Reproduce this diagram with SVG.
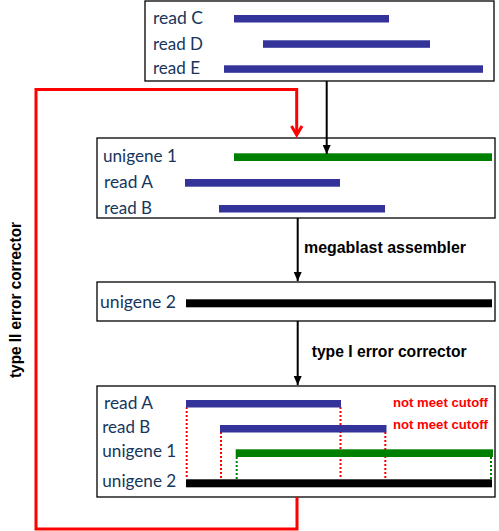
<svg xmlns="http://www.w3.org/2000/svg" width="499" height="531" viewBox="0 0 499 531">
<style>
.box{fill:#fff;stroke:#000;stroke-width:1.3}
.lbl{font-family:Lato,"Liberation Sans",sans-serif;font-size:17.5px;fill:#17365D}
.op{font-family:"Liberation Sans",Arial,sans-serif;font-size:16px;font-weight:bold;fill:#000}
.warn{font-family:"Liberation Sans",Arial,sans-serif;font-size:12.5px;font-weight:bold;fill:#FF0000}
.blue{fill:#333399}
.green{fill:#008000}
.black{fill:#000}
.rdot{stroke:#FF0000;stroke-width:2;stroke-dasharray:2 2;fill:none}
.gdot{stroke:#008000;stroke-width:2;stroke-dasharray:2 2;fill:none}
.arr{stroke:#000;stroke-width:2;fill:none}
.red{stroke:#FF0000;stroke-width:3;fill:none}
</style>
<defs>
<marker id="ah" markerWidth="10" markerHeight="8" refX="9" refY="4" orient="auto" markerUnits="userSpaceOnUse" viewBox="0 0 10 8">
<path d="M0,0 L9,4 L0,8 Z" fill="#000"/>
</marker>
</defs>

<g id="box-reads-CDE">
<rect class="box" x="145" y="1" width="349" height="80"/>
<text class="lbl" x="153" y="24" textLength="50" lengthAdjust="spacingAndGlyphs">read C</text>
<text class="lbl" x="153" y="50" textLength="50" lengthAdjust="spacingAndGlyphs">read D</text>
<text class="lbl" x="153" y="74" textLength="47" lengthAdjust="spacingAndGlyphs">read E</text>
<rect class="blue" x="234" y="15" width="155" height="7.5"/>
<rect class="blue" x="263" y="40.3" width="167" height="7.5"/>
<rect class="blue" x="224" y="65.3" width="259" height="7.5"/>
</g>

<g id="box-unigene1-reads">
<rect class="box" x="97" y="138" width="398" height="80"/>
<text class="lbl" x="103" y="162" textLength="74" lengthAdjust="spacingAndGlyphs">unigene 1</text>
<text class="lbl" x="104" y="187.5" textLength="49" lengthAdjust="spacingAndGlyphs">read A</text>
<text class="lbl" x="104" y="213.5" textLength="48" lengthAdjust="spacingAndGlyphs">read B</text>
<rect class="green" x="234" y="153.3" width="258" height="7.7"/>
<rect class="blue" x="185" y="179" width="155" height="7.7"/>
<rect class="blue" x="219" y="205" width="166" height="7.5"/>
</g>

<g id="box-unigene2">
<rect class="box" x="97" y="282" width="398" height="39"/>
<text class="lbl" x="100" y="308" textLength="76" lengthAdjust="spacingAndGlyphs">unigene 2</text>
<rect class="black" x="186" y="299.3" width="306" height="8"/>
</g>

<g id="box-check">
<rect class="box" x="97" y="386" width="398" height="111"/>
<text class="lbl" x="104" y="409" textLength="49" lengthAdjust="spacingAndGlyphs">read A</text>
<text class="lbl" x="102.3" y="433" textLength="48" lengthAdjust="spacingAndGlyphs">read B</text>
<text class="lbl" x="102.3" y="457" textLength="74" lengthAdjust="spacingAndGlyphs">unigene 1</text>
<text class="lbl" x="102.3" y="487" textLength="74" lengthAdjust="spacingAndGlyphs">unigene 2</text>
<text class="warn" x="393" y="407" textLength="95" lengthAdjust="spacingAndGlyphs">not meet cutoff</text>
<text class="warn" x="393" y="428.5" textLength="95" lengthAdjust="spacingAndGlyphs">not meet cutoff</text>
<line class="rdot" x1="186.7" y1="407" x2="186.7" y2="479"/>
<line class="rdot" x1="340.5" y1="407" x2="340.5" y2="479"/>
<line class="rdot" x1="221" y1="432" x2="221" y2="479"/>
<line class="rdot" x1="385.3" y1="432" x2="385.3" y2="479"/>
<line class="gdot" x1="236.7" y1="457" x2="236.7" y2="479"/>
<line class="gdot" x1="491" y1="457" x2="491" y2="479"/>
<rect class="blue" x="186" y="400" width="155" height="7.5"/>
<rect class="blue" x="220" y="425" width="166.5" height="7.5"/>
<rect class="green" x="235.7" y="449.3" width="257.3" height="7.7"/>
<rect class="black" x="186" y="479.3" width="306" height="8"/>
</g>

<g id="connectors">
<line class="arr" x1="326.7" y1="81" x2="326.7" y2="154" marker-end="url(#ah)"/>
<line class="arr" x1="297.7" y1="218" x2="297.7" y2="281" marker-end="url(#ah)"/>
<line class="arr" x1="297.7" y1="321" x2="297.7" y2="385" marker-end="url(#ah)"/>
<path class="red" d="M297,497 V529 H36 V89.5 H296.7 V135"/>
<path class="red" d="M291.5,126 L296.7,135 L302,126" stroke-linejoin="miter"/>
<text class="op" x="304" y="253" textLength="162" lengthAdjust="spacingAndGlyphs">megablast assembler</text>
<text class="op" x="311.7" y="357" textLength="155" lengthAdjust="spacingAndGlyphs">type I error corrector</text>
<text class="op" transform="translate(20.7,378) rotate(-90)" x="0" y="0" textLength="156" lengthAdjust="spacingAndGlyphs">type II error corrector</text>
</g>
</svg>
